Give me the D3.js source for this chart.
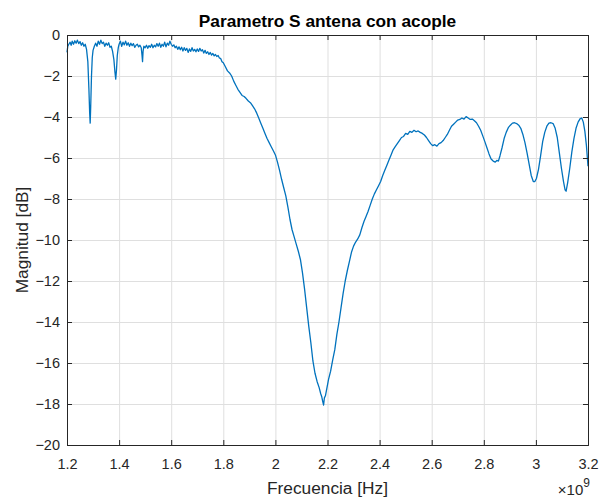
<!DOCTYPE html>
<html>
<head>
<meta charset="utf-8">
<script src="https://cdn.jsdelivr.net/npm/d3@7/dist/d3.min.js"></script>
<style>
html,body{margin:0;padding:0;background:#fff;}
svg{display:block;}
text{font-family:"Liberation Sans",Arial,Helvetica,sans-serif;}
</style>
</head>
<body>
<svg id="chart" width="600" height="497"></svg>
<script>
// Frequency in GHz (axis uses x10^9 multiplier)
const freqGHz = [
1.200,1.203,1.207,1.212,1.216,1.220,1.225,1.230,1.235,1.240,1.245,1.250,1.255,1.260,1.265,1.270,1.275,1.280,1.284,1.287,1.289,1.291,1.294,1.297,
1.300,1.305,1.310,1.315,1.320,1.325,1.330,1.335,1.340,1.345,1.350,1.355,1.360,1.365,1.370,1.375,1.380,1.384,1.387,1.390,1.393,1.397,
1.400,1.405,1.410,1.415,1.420,1.425,1.430,1.435,1.440,1.445,1.450,1.455,1.460,1.465,1.470,1.475,1.480,1.485,1.488,1.490,1.492,1.495,
1.500,1.505,1.510,1.515,1.520,1.525,1.530,1.535,1.540,1.545,1.550,1.555,1.560,1.565,1.570,1.575,1.580,1.585,1.590,1.595,
1.600,1.605,1.610,1.615,1.620,1.625,1.630,1.635,1.640,1.645,1.650,1.655,1.660,1.665,1.670,1.675,1.680,1.685,1.690,1.695,
1.700,1.705,1.710,1.715,1.720,1.725,1.730,1.735,1.740,1.745,1.750,1.755,1.760,1.765,1.770,1.775,1.780,1.785,1.790,1.795,
1.800,1.808,1.816,1.824,1.832,1.840,1.848,1.856,1.864,1.872,1.880,1.888,1.896,1.904,1.912,1.920,1.928,1.936,1.944,1.952,1.960,1.968,1.976,1.984,1.992,
2.000,2.008,2.016,2.024,2.032,2.040,2.048,2.056,2.064,2.072,2.080,2.088,2.096,2.104,2.112,2.120,2.128,2.136,2.144,2.152,2.160,2.168,2.174,2.178,2.182,2.185,2.188,2.192,2.198,
2.204,2.212,2.220,2.228,2.236,2.244,2.252,2.260,2.268,2.276,2.284,2.292,2.300,2.308,2.316,2.324,2.332,2.340,2.348,2.356,2.364,2.372,2.380,2.388,2.396,
2.404,2.412,2.420,2.428,2.436,2.444,2.452,2.460,2.468,2.476,2.484,2.492,2.500,2.508,2.516,2.524,2.532,2.540,2.548,2.556,2.564,2.572,2.580,2.588,2.596,
2.604,2.612,2.620,2.628,2.636,2.644,2.652,2.660,2.668,2.676,2.684,2.692,2.700,2.708,2.716,2.724,2.732,2.740,2.748,2.756,2.764,2.772,2.780,2.788,2.796,
2.804,2.812,2.820,2.828,2.836,2.844,2.850,2.856,2.862,2.870,2.878,2.886,2.894,2.902,2.910,2.918,2.926,2.934,2.942,2.950,2.958,2.966,2.974,2.982,2.990,2.996,
3.002,3.010,3.018,3.026,3.034,3.042,3.050,3.058,3.066,3.074,3.082,3.090,3.098,3.106,3.112,3.116,3.122,3.130,3.138,3.146,3.154,3.162,3.170,3.176,3.182,3.188,3.194,3.200
];
const magnitudeDB = [
-0.85,-0.55,-0.45,-0.35,-0.50,-0.30,-0.45,-0.28,-0.40,-0.25,-0.42,-0.32,-0.50,-0.38,-0.55,-0.45,-0.70,-1.30,-2.60,-3.80,-4.30,-3.50,-2.00,-1.10,
-0.75,-0.55,-0.40,-0.55,-0.30,-0.45,-0.25,-0.42,-0.35,-0.55,-0.40,-0.50,-0.38,-0.60,-0.55,-0.80,-1.20,-1.80,-2.15,-1.70,-1.00,-0.60,
-0.45,-0.30,-0.55,-0.35,-0.48,-0.30,-0.50,-0.38,-0.55,-0.40,-0.52,-0.42,-0.60,-0.50,-0.45,-0.58,-0.50,-0.62,-1.00,-1.30,-0.80,-0.55,
-0.62,-0.50,-0.65,-0.52,-0.60,-0.45,-0.62,-0.50,-0.58,-0.42,-0.55,-0.40,-0.60,-0.45,-0.55,-0.35,-0.58,-0.40,-0.50,-0.30,
-0.45,-0.55,-0.48,-0.62,-0.55,-0.70,-0.58,-0.72,-0.60,-0.78,-0.62,-0.75,-0.65,-0.85,-0.68,-0.80,-0.62,-0.78,-0.70,-0.82,
-0.68,-0.80,-0.65,-0.78,-0.72,-0.88,-0.75,-0.90,-0.82,-0.95,-0.85,-0.98,-0.90,-1.02,-0.95,-1.05,-1.00,-1.12,-1.15,-1.30,
-1.35,-1.55,-1.75,-1.85,-2.00,-2.25,-2.45,-2.65,-2.80,-2.95,-3.00,-3.10,-3.22,-3.30,-3.45,-3.60,-3.80,-4.05,-4.30,-4.55,-4.80,-5.05,-5.25,-5.45,-5.65,
-5.85,-6.20,-6.60,-7.05,-7.45,-7.85,-8.40,-9.00,-9.50,-9.85,-10.20,-10.55,-10.95,-11.60,-12.40,-13.30,-14.20,-15.00,-15.90,-16.50,-16.90,-17.20,-17.50,-17.65,-17.90,-18.05,-17.70,-17.60,-17.20,
-16.80,-16.40,-15.85,-15.35,-14.60,-14.00,-13.30,-12.60,-12.00,-11.50,-11.05,-10.60,-10.30,-10.10,-9.95,-9.75,-9.40,-9.10,-8.85,-8.60,-8.30,-8.00,-7.75,-7.55,-7.35,
-7.15,-6.85,-6.60,-6.35,-6.10,-5.85,-5.60,-5.45,-5.30,-5.15,-5.00,-4.95,-4.80,-4.85,-4.70,-4.75,-4.65,-4.72,-4.68,-4.75,-4.80,-4.88,-5.00,-5.15,-5.30,
-5.40,-5.35,-5.42,-5.30,-5.25,-5.15,-5.00,-4.85,-4.65,-4.45,-4.35,-4.25,-4.15,-4.12,-4.05,-4.10,-3.98,-4.05,-4.12,-4.10,-4.18,-4.28,-4.45,-4.65,-4.92,
-5.20,-5.50,-5.80,-6.05,-6.15,-6.20,-6.12,-6.15,-5.90,-5.50,-5.05,-4.75,-4.52,-4.40,-4.30,-4.28,-4.32,-4.40,-4.55,-4.85,-5.25,-5.75,-6.30,-6.85,-7.15,-7.15,
-7.00,-6.55,-5.90,-5.20,-4.75,-4.45,-4.30,-4.28,-4.32,-4.55,-5.00,-5.75,-6.50,-7.15,-7.55,-7.62,-7.20,-6.50,-5.70,-5.05,-4.55,-4.25,-4.08,-4.05,-4.25,-4.70,-5.40,-6.40
];
const xTicks = [1.2,1.4,1.6,1.8,2,2.2,2.4,2.6,2.8,3,3.2];
const yTicks = [0,-2,-4,-6,-8,-10,-12,-14,-16,-18,-20];
const titleText = "Parametro S antena con acople";
const xLabel = "Frecuencia [Hz]";
const yLabel = "Magnitud [dB]";

const data = freqGHz.map((f,i)=>({f, m: magnitudeDB[i]}));

const margin = {left:67, top:35, right:12, bottom:52};
const W = 600, H = 497;
const pw = W - margin.left - margin.right; // 521
const ph = H - margin.top - margin.bottom; // 410

const svg = d3.select("#chart");
const g = svg.append("g").attr("transform",`translate(${margin.left},${margin.top})`);

const x = d3.scaleLinear().domain([1.2,3.2]).range([0,pw]);
const y = d3.scaleLinear().domain([-20,0]).range([ph,0]);

const axisColor = "#262626";
const gridColor = "#dfdfdf";

// grid
g.append("g").selectAll("line").data(xTicks.slice(1,-1)).join("line")
  .attr("x1",d=>x(d)+0.5).attr("x2",d=>x(d)+0.5).attr("y1",0).attr("y2",ph)
  .attr("stroke",gridColor).attr("stroke-width",1);
g.append("g").selectAll("line").data(yTicks.slice(1,-1)).join("line")
  .attr("y1",d=>y(d)+0.5).attr("y2",d=>y(d)+0.5).attr("x1",0).attr("x2",pw)
  .attr("stroke",gridColor).attr("stroke-width",1);

// line
const line = d3.line().x(d=>x(d.f)).y(d=>y(d.m));
g.append("path").datum(data).attr("d",line)
  .attr("fill","none").attr("stroke","#0072BD").attr("stroke-width",1.3)
  .attr("stroke-linejoin","round");

// axes
const tickLen = 5;
const xAxisB = d3.axisBottom(x).tickValues(xTicks).tickSize(-tickLen).tickPadding(14)
  .tickFormat(d=>d3.format("")(+d.toFixed(1)));
const xAxisT = d3.axisTop(x).tickValues(xTicks).tickSize(-tickLen).tickFormat("");
const yAxisL = d3.axisLeft(y).tickValues(yTicks).tickSize(-tickLen).tickPadding(7).tickFormat(d=>d3.format("")(d));
const yAxisR = d3.axisRight(y).tickValues(yTicks).tickSize(-tickLen).tickFormat("");

function style(sel){
  sel.select(".domain").attr("stroke",axisColor).attr("stroke-width",1);
  sel.selectAll(".tick line").attr("stroke",axisColor);
  sel.selectAll(".tick text").attr("fill",axisColor).style("font-size","14.5px")
     .style("font-family",'"Liberation Sans",Arial,Helvetica,sans-serif');
}
g.append("g").attr("transform",`translate(0,${ph})`).call(xAxisB).call(style);
g.append("g").call(xAxisT).call(style);
g.append("g").call(yAxisL).call(style);
g.append("g").attr("transform",`translate(${pw},0)`).call(yAxisR).call(style);

// title
svg.append("text").attr("x",margin.left+pw/2).attr("y",26.5)
  .attr("text-anchor","middle").attr("font-weight","bold").attr("font-size","17.3px")
  .attr("fill","#000").text(titleText);
// x label
svg.append("text").attr("x",margin.left+pw/2).attr("y",494)
  .attr("text-anchor","middle").attr("font-size","17.3px").attr("fill",axisColor).text(xLabel);
// y label
svg.append("text").attr("transform",`translate(28,${margin.top+ph/2}) rotate(-90)`)
  .attr("text-anchor","middle").attr("font-size","17.3px").attr("fill",axisColor).text(yLabel);
// exponent
const ex = svg.append("text").attr("x",margin.left+pw+2).attr("y",495).attr("text-anchor","end")
  .attr("fill",axisColor).attr("font-size","15px");
ex.append("tspan").text("\u00d710");
ex.append("tspan").attr("dy",-8).attr("font-size","12px").text("9");
</script>
</body>
</html>
